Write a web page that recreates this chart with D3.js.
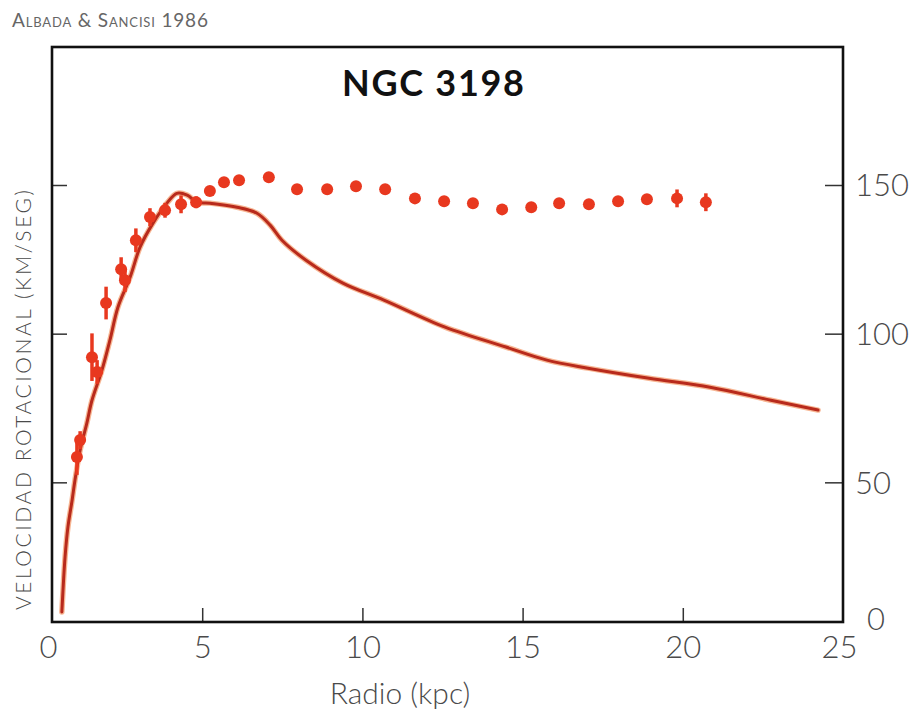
<!DOCTYPE html>
<html>
<head>
<meta charset="utf-8">
<script src="https://cdn.jsdelivr.net/npm/d3@7"></script>
<style>
  html, body { margin: 0; padding: 0; background: #fff; }
  svg { display: block; }
</style>
</head>
<body>
<svg id="chart" width="912" height="720"></svg>
<script>
// ---- Data ----
// Observed rotation velocities (HI), km/s
const obsRadius   = [1.09, 1.19, 1.56, 1.72, 2.00, 2.47, 2.59, 2.93, 3.37, 3.84, 4.34, 4.81,
                     5.24, 5.68, 6.15, 7.08, 7.96, 8.90, 9.80, 10.71, 11.64, 12.55, 13.45,
                     14.36, 15.27, 16.14, 17.07, 17.98, 18.88, 19.82, 20.72];
const obsVelocity = [58.5, 64.2, 92.1, 87.1, 110.3, 121.7, 118.0, 131.4, 139.2, 141.5, 143.5, 144.2,
                     148.0, 150.9, 151.6, 152.6, 148.6, 148.6, 149.6, 148.6, 145.5, 144.5, 143.9,
                     141.8, 142.5, 143.9, 143.5, 144.5, 145.2, 145.5, 144.2];
const obsError    = [6, 3, 8, 4, 5.5, 4, 4, 4, 3, 2.5, 3, 2,
                     0, 0, 0, 0, 0, 0, 0, 0, 0, 0, 0,
                     0, 0, 0, 0, 0, 0, 3, 3];
// Expected curve from visible matter
const curveRadius   = [0.62, 0.72, 0.81, 0.94, 1.03, 1.19, 1.40, 1.56, 1.87, 2.12, 2.37, 2.75, 3.06,
                       3.46, 3.90, 4.21, 4.53, 4.84, 5.24, 6.09, 6.71, 7.12, 7.49, 8.24, 9.39,
                       10.67, 12.58, 14.48, 15.76, 17.04, 18.95, 20.85, 22.75, 24.22];
const curveVelocity = [6.4, 24.9, 35.0, 44.0, 50.8, 60.8, 69.9, 77.6, 87.7, 97.8, 108.9, 119.0, 129.1,
                       137.1, 143.9, 147.2, 146.6, 144.2, 143.9, 142.5, 140.5, 136.5, 131.4, 124.7, 117.0,
                       111.3, 102.2, 95.5, 91.1, 88.4, 85.0, 82.0, 77.6, 74.3];
const xTicks = [0, 5, 10, 15, 20, 25];
const yTicks = [0, 50, 100, 150];
const title = "NGC 3198";
const credit = "Albada & Sancisi 1986";
const xLabel = "Radio (kpc)";
const yLabel = "VELOCIDAD ROTACIONAL (KM/SEG)";

// ---- Layout ----
const svg = d3.select("#chart");
const frame = { left: 52, right: 843, top: 47, bottom: 622 };
const x = d3.scaleLinear().domain([0, 25]).range([42, 843]);
const y = d3.scaleLinear().domain([0, 150]).range([631, 185]);

const textColor = "#4a4a4a";
const dotColor = "#e8381f";
const lineColor = "#b82a1c";
const numFont = "Lato, 'Open Sans', sans-serif";

// credit
svg.append("text")
  .attr("x", 12).attr("y", 27)
  .attr("font-family", numFont)
  .attr("font-size", 19)
  .style("font-variant", "small-caps")
  .attr("fill", "#666")
  .attr("textLength", 196)
  .attr("lengthAdjust", "spacing")
  .text(credit);

// clip for plot area
svg.append("defs").append("clipPath").attr("id", "clip")
  .append("rect")
  .attr("x", frame.left).attr("y", frame.top)
  .attr("width", frame.right - frame.left).attr("height", frame.bottom - frame.top);

// title
svg.append("text")
  .attr("x", 433).attr("y", 96)
  .attr("text-anchor", "middle")
  .attr("font-family", "Lato, 'Open Sans', sans-serif")
  .attr("font-weight", 700)
  .attr("font-size", 36)
  .attr("fill", "#111")
  .attr("textLength", 182).attr("lengthAdjust", "spacing")
  .text(title);

// bottom axis (ticks inward)
const xAxis = d3.axisBottom(x).tickValues(xTicks).tickFormat(d3.format("d"))
  .tickSizeInner(-14).tickSizeOuter(0).tickPadding(20);
const gx = svg.append("g").attr("transform", `translate(0,${frame.bottom})`).call(xAxis);
gx.select(".domain").remove();
gx.selectAll(".tick line").attr("stroke", "#333").attr("stroke-width", 1.5)
  .filter(d => d === 0 || d === 25).remove();
gx.selectAll(".tick text")
  .attr("font-family", numFont).attr("font-size", 31).attr("font-weight", 300)
  .attr("fill", textColor).attr("dy", "0.71em").attr("y", 14)
  .attr("dx", d => d === 0 ? 6 : (d === 25 ? -4 : 0));

// right axis (ticks inward)
const yAxis = d3.axisRight(y).tickValues(yTicks).tickFormat(d3.format("d"))
  .tickSizeInner(-18).tickSizeOuter(0).tickPadding(12);
const gy = svg.append("g").attr("transform", `translate(${frame.right},0)`).call(yAxis);
gy.select(".domain").remove();
gy.selectAll(".tick line").attr("stroke", "#333").attr("stroke-width", 1.5)
  .filter(d => d === 0).remove();
gy.selectAll(".tick text")
  .attr("font-family", numFont).attr("font-size", 31).attr("font-weight", 300)
  .attr("fill", textColor)
  .attr("x", d => d === 0 ? 24 : 12)
  .attr("dy", d => d === 0 ? "-0.05em" : "0.35em");

// left axis ticks (inward, no labels)
const yAxisL = d3.axisLeft(y).tickValues(yTicks.filter(d => d > 0)).tickFormat("")
  .tickSizeInner(-15).tickSizeOuter(0);
const gyl = svg.append("g").attr("transform", `translate(${frame.left},0)`).call(yAxisL);
gyl.select(".domain").remove();
gyl.selectAll(".tick line").attr("stroke", "#333").attr("stroke-width", 1.5);

// frame
svg.append("rect")
  .attr("x", frame.left).attr("y", frame.top)
  .attr("width", frame.right - frame.left).attr("height", frame.bottom - frame.top)
  .attr("fill", "none").attr("stroke", "#111").attr("stroke-width", 2.6);

// axis labels
svg.append("text")
  .attr("x", 400).attr("y", 704)
  .attr("text-anchor", "middle")
  .attr("font-family", numFont).attr("font-size", 30).attr("font-weight", 300)
  .attr("fill", textColor)
  .text(xLabel);

svg.append("text")
  .attr("transform", "translate(31,400) rotate(-90)")
  .attr("text-anchor", "middle")
  .attr("font-family", numFont).attr("font-size", 21).attr("font-weight", 300)
  .attr("fill", textColor)
  .attr("textLength", 420).attr("lengthAdjust", "spacing")
  .text(yLabel);

// plot layer
const plot = svg.append("g").attr("clip-path", "url(#clip)");

const curveData = curveRadius.map((r, i) => ({ r, v: curveVelocity[i] }));
const line = d3.line().x(d => x(d.r)).y(d => y(d.v)).curve(d3.curveCatmullRom.alpha(0.5));
plot.append("path")
  .datum(curveData)
  .attr("d", line)
  .attr("fill", "none")
  .attr("stroke", "#f07a3a").attr("stroke-opacity", 0.55)
  .attr("stroke-width", 5.5)
  .attr("stroke-linejoin", "round").attr("stroke-linecap", "round");
plot.append("path")
  .datum(curveData)
  .attr("d", line)
  .attr("fill", "none")
  .attr("stroke", lineColor)
  .attr("stroke-width", 3)
  .attr("stroke-linejoin", "round").attr("stroke-linecap", "round");

const obsData = obsRadius.map((r, i) => ({ r, v: obsVelocity[i], e: obsError[i] }));
plot.selectAll("line.err")
  .data(obsData.filter(d => d.e > 0))
  .join("line").attr("class", "err")
  .attr("x1", d => x(d.r)).attr("x2", d => x(d.r))
  .attr("y1", d => y(d.v - d.e)).attr("y2", d => y(d.v + d.e))
  .attr("stroke", dotColor).attr("stroke-width", 3.5);
plot.selectAll("circle.obs")
  .data(obsData)
  .join("circle").attr("class", "obs")
  .attr("cx", d => x(d.r)).attr("cy", d => y(d.v))
  .attr("r", 6)
  .attr("fill", dotColor);
</script>
</body>
</html>
